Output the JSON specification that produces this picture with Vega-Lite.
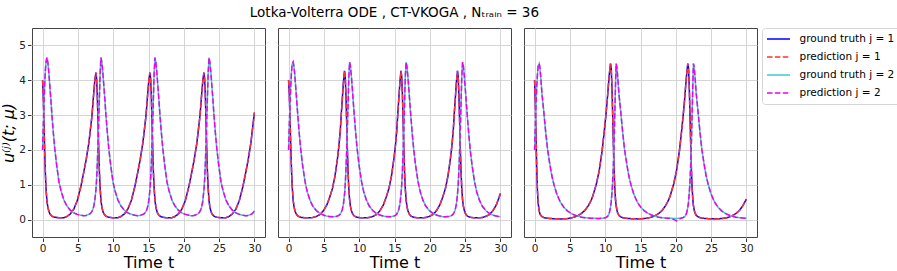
{
"$schema": "https://vega.github.io/schema/vega-lite/v6.json",
"background": "white",
"padding": {"left": 0, "top": 5, "right": 0, "bottom": 0},
"title": {"text": "Lotka-Volterra ODE , CT-VKOGA , Nₜᵣₐᵢₙ = 36", "font": "DejaVu Sans", "fontSize": 13.5, "fontWeight": "normal", "color": "#000", "anchor": "start", "dx": 249, "offset": 8.5},
"config": {
  "font": "DejaVu Sans",
  "view": {"stroke": "#444", "strokeWidth": 1},
  "axis": {"grid": true, "gridColor": "#d0d0d0", "gridWidth": 0.9, "domain": false, "tickColor": "#333", "tickSize": 3.5, "labelFont": "DejaVu Sans", "labelFontSize": 10.5, "labelColor": "#222", "titleFont": "DejaVu Sans", "titleFontSize": 16, "titleFontWeight": "normal", "titleColor": "#000", "labelPadding": 2},
  "legend": {"orient": "right", "offset": 4, "padding": 5, "strokeColor": "#d6d6d6", "cornerRadius": 3, "fillColor": "white", "labelFont": "DejaVu Sans", "labelFontSize": 10.5, "labelColor": "#000", "symbolType": "M-2.3,0H2.3", "symbolSize": 100, "symbolStrokeWidth": 1.5, "symbolOffset": 5.5, "rowPadding": 6, "labelOffset": 15, "labelLimit": 200}
},
"data": {"values": [
{"p":1,"t":0,"g1":4.0,"p1":4.0,"g2":2.0,"p2":2.0},
{"p":1,"t":0.1,"g1":3.5,"p1":3.5,"g2":2.7,"p2":2.7},
{"p":1,"t":0.2,"g1":2.75,"p1":2.75,"g2":3.35,"p2":3.35},
{"p":1,"t":0.3,"g1":1.95,"p1":1.95,"g2":3.9,"p2":3.9},
{"p":1,"t":0.4,"g1":1.3,"p1":1.3,"g2":4.3,"p2":4.3},
{"p":1,"t":0.5,"g1":0.85,"p1":0.85,"g2":4.55,"p2":4.55},
{"p":1,"t":0.62,"g1":0.52,"p1":0.52,"g2":4.65,"p2":4.65},
{"p":1,"t":0.74,"g1":0.37,"p1":0.37,"g2":4.52,"p2":4.52},
{"p":1,"t":0.87,"g1":0.25,"p1":0.25,"g2":4.25,"p2":4.25},
{"p":1,"t":1.02,"g1":0.17,"p1":0.17,"g2":3.85,"p2":3.85},
{"p":1,"t":1.17,"g1":0.13,"p1":0.13,"g2":3.45,"p2":3.45},
{"p":1,"t":1.32,"g1":0.1,"p1":0.1,"g2":3.0,"p2":3.0},
{"p":1,"t":1.52,"g1":0.08,"p1":0.08,"g2":2.5,"p2":2.5},
{"p":1,"t":1.72,"g1":0.068,"p1":0.068,"g2":2.05,"p2":2.05},
{"p":1,"t":1.97,"g1":0.06,"p1":0.06,"g2":1.6,"p2":1.6},
{"p":1,"t":2.32,"g1":0.053,"p1":0.053,"g2":1.08,"p2":1.08},
{"p":1,"t":2.62,"g1":0.05,"p1":0.05,"g2":0.82,"p2":0.82},
{"p":1,"t":3.02,"g1":0.055,"p1":0.055,"g2":0.56,"p2":0.56},
{"p":1,"t":3.42,"g1":0.085,"p1":0.085,"g2":0.4,"p2":0.4},
{"p":1,"t":3.92,"g1":0.16,"p1":0.16,"g2":0.27,"p2":0.27},
{"p":1,"t":4.42,"g1":0.3,"p1":0.3,"g2":0.19,"p2":0.19},
{"p":1,"t":4.92,"g1":0.55,"p1":0.55,"g2":0.15,"p2":0.15},
{"p":1,"t":5.42,"g1":0.95,"p1":0.95,"g2":0.125,"p2":0.125},
{"p":1,"t":5.82,"g1":1.35,"p1":1.35,"g2":0.11,"p2":0.11},
{"p":1,"t":6.17,"g1":1.72,"p1":1.72,"g2":0.12,"p2":0.12},
{"p":1,"t":6.55,"g1":2.2,"p1":2.2,"g2":0.15,"p2":0.15},
{"p":1,"t":6.75,"g1":2.55,"p1":2.55,"g2":0.17,"p2":0.17},
{"p":1,"t":6.95,"g1":2.9,"p1":2.9,"g2":0.22,"p2":0.22},
{"p":1,"t":7.1,"g1":3.25,"p1":3.25,"g2":0.28,"p2":0.28},
{"p":1,"t":7.25,"g1":3.65,"p1":3.65,"g2":0.38,"p2":0.38},
{"p":1,"t":7.4,"g1":4.0,"p1":4.0,"g2":0.55,"p2":0.55},
{"p":1,"t":7.55,"g1":4.22,"p1":4.22,"g2":0.85,"p2":0.85},
{"p":1,"t":7.65,"g1":4.05,"p1":4.05,"g2":1.15,"p2":1.15},
{"p":1,"t":7.75,"g1":3.55,"p1":3.55,"g2":1.6,"p2":1.6},
{"p":1,"t":7.85,"g1":2.8,"p1":2.8,"g2":2.2,"p2":2.2},
{"p":1,"t":7.95,"g1":2.0,"p1":2.0,"g2":2.85,"p2":2.85},
{"p":1,"t":8.05,"g1":1.35,"p1":1.35,"g2":3.55,"p2":3.55},
{"p":1,"t":8.15,"g1":0.9,"p1":0.9,"g2":4.2,"p2":4.2},
{"p":1,"t":8.27,"g1":0.55,"p1":0.55,"g2":4.65,"p2":4.65},
{"p":1,"t":8.39,"g1":0.37,"p1":0.37,"g2":4.52,"p2":4.52},
{"p":1,"t":8.52,"g1":0.25,"p1":0.25,"g2":4.25,"p2":4.25},
{"p":1,"t":8.67,"g1":0.17,"p1":0.17,"g2":3.85,"p2":3.85},
{"p":1,"t":8.82,"g1":0.13,"p1":0.13,"g2":3.45,"p2":3.45},
{"p":1,"t":8.97,"g1":0.1,"p1":0.1,"g2":3.0,"p2":3.0},
{"p":1,"t":9.17,"g1":0.08,"p1":0.08,"g2":2.5,"p2":2.5},
{"p":1,"t":9.37,"g1":0.068,"p1":0.068,"g2":2.05,"p2":2.05},
{"p":1,"t":9.62,"g1":0.06,"p1":0.06,"g2":1.6,"p2":1.6},
{"p":1,"t":9.97,"g1":0.053,"p1":0.053,"g2":1.08,"p2":1.08},
{"p":1,"t":10.27,"g1":0.05,"p1":0.05,"g2":0.82,"p2":0.82},
{"p":1,"t":10.67,"g1":0.055,"p1":0.055,"g2":0.56,"p2":0.56},
{"p":1,"t":11.07,"g1":0.085,"p1":0.085,"g2":0.4,"p2":0.4},
{"p":1,"t":11.57,"g1":0.16,"p1":0.16,"g2":0.27,"p2":0.27},
{"p":1,"t":12.07,"g1":0.3,"p1":0.3,"g2":0.19,"p2":0.19},
{"p":1,"t":12.57,"g1":0.55,"p1":0.55,"g2":0.15,"p2":0.15},
{"p":1,"t":13.07,"g1":0.95,"p1":0.95,"g2":0.125,"p2":0.125},
{"p":1,"t":13.47,"g1":1.35,"p1":1.35,"g2":0.11,"p2":0.11},
{"p":1,"t":13.82,"g1":1.72,"p1":1.72,"g2":0.12,"p2":0.12},
{"p":1,"t":14.2,"g1":2.2,"p1":2.2,"g2":0.15,"p2":0.15},
{"p":1,"t":14.4,"g1":2.55,"p1":2.55,"g2":0.17,"p2":0.17},
{"p":1,"t":14.6,"g1":2.9,"p1":2.9,"g2":0.22,"p2":0.22},
{"p":1,"t":14.75,"g1":3.25,"p1":3.25,"g2":0.28,"p2":0.28},
{"p":1,"t":14.9,"g1":3.65,"p1":3.65,"g2":0.38,"p2":0.38},
{"p":1,"t":15.05,"g1":4.0,"p1":4.0,"g2":0.55,"p2":0.55},
{"p":1,"t":15.2,"g1":4.22,"p1":4.22,"g2":0.85,"p2":0.85},
{"p":1,"t":15.3,"g1":4.05,"p1":4.05,"g2":1.15,"p2":1.15},
{"p":1,"t":15.4,"g1":3.55,"p1":3.55,"g2":1.6,"p2":1.6},
{"p":1,"t":15.5,"g1":2.8,"p1":2.8,"g2":2.2,"p2":2.2},
{"p":1,"t":15.6,"g1":2.0,"p1":2.0,"g2":2.85,"p2":2.85},
{"p":1,"t":15.7,"g1":1.35,"p1":1.35,"g2":3.55,"p2":3.55},
{"p":1,"t":15.8,"g1":0.9,"p1":0.9,"g2":4.2,"p2":4.2},
{"p":1,"t":15.92,"g1":0.55,"p1":0.55,"g2":4.65,"p2":4.65},
{"p":1,"t":16.04,"g1":0.37,"p1":0.37,"g2":4.52,"p2":4.52},
{"p":1,"t":16.17,"g1":0.25,"p1":0.25,"g2":4.25,"p2":4.25},
{"p":1,"t":16.32,"g1":0.17,"p1":0.17,"g2":3.85,"p2":3.85},
{"p":1,"t":16.47,"g1":0.13,"p1":0.13,"g2":3.45,"p2":3.45},
{"p":1,"t":16.62,"g1":0.1,"p1":0.1,"g2":3.0,"p2":3.0},
{"p":1,"t":16.82,"g1":0.08,"p1":0.08,"g2":2.5,"p2":2.5},
{"p":1,"t":17.02,"g1":0.068,"p1":0.068,"g2":2.05,"p2":2.05},
{"p":1,"t":17.27,"g1":0.06,"p1":0.06,"g2":1.6,"p2":1.6},
{"p":1,"t":17.62,"g1":0.053,"p1":0.053,"g2":1.08,"p2":1.08},
{"p":1,"t":17.92,"g1":0.05,"p1":0.05,"g2":0.82,"p2":0.82},
{"p":1,"t":18.32,"g1":0.055,"p1":0.055,"g2":0.56,"p2":0.56},
{"p":1,"t":18.72,"g1":0.085,"p1":0.085,"g2":0.4,"p2":0.4},
{"p":1,"t":19.22,"g1":0.16,"p1":0.16,"g2":0.27,"p2":0.27},
{"p":1,"t":19.72,"g1":0.3,"p1":0.3,"g2":0.19,"p2":0.19},
{"p":1,"t":20.22,"g1":0.55,"p1":0.55,"g2":0.15,"p2":0.15},
{"p":1,"t":20.72,"g1":0.95,"p1":0.95,"g2":0.125,"p2":0.125},
{"p":1,"t":21.12,"g1":1.35,"p1":1.35,"g2":0.11,"p2":0.11},
{"p":1,"t":21.47,"g1":1.72,"p1":1.72,"g2":0.12,"p2":0.12},
{"p":1,"t":21.85,"g1":2.2,"p1":2.2,"g2":0.15,"p2":0.15},
{"p":1,"t":22.05,"g1":2.55,"p1":2.55,"g2":0.17,"p2":0.17},
{"p":1,"t":22.25,"g1":2.9,"p1":2.9,"g2":0.22,"p2":0.22},
{"p":1,"t":22.4,"g1":3.25,"p1":3.25,"g2":0.28,"p2":0.28},
{"p":1,"t":22.55,"g1":3.65,"p1":3.65,"g2":0.38,"p2":0.38},
{"p":1,"t":22.7,"g1":4.0,"p1":4.0,"g2":0.55,"p2":0.55},
{"p":1,"t":22.85,"g1":4.22,"p1":4.22,"g2":0.85,"p2":0.85},
{"p":1,"t":22.95,"g1":4.05,"p1":4.05,"g2":1.15,"p2":1.15},
{"p":1,"t":23.05,"g1":3.55,"p1":3.55,"g2":1.6,"p2":1.6},
{"p":1,"t":23.15,"g1":2.8,"p1":2.8,"g2":2.2,"p2":2.2},
{"p":1,"t":23.25,"g1":2.0,"p1":2.0,"g2":2.85,"p2":2.85},
{"p":1,"t":23.35,"g1":1.35,"p1":1.35,"g2":3.55,"p2":3.55},
{"p":1,"t":23.45,"g1":0.9,"p1":0.9,"g2":4.2,"p2":4.2},
{"p":1,"t":23.57,"g1":0.55,"p1":0.55,"g2":4.65,"p2":4.65},
{"p":1,"t":23.69,"g1":0.37,"p1":0.37,"g2":4.52,"p2":4.52},
{"p":1,"t":23.82,"g1":0.25,"p1":0.25,"g2":4.25,"p2":4.25},
{"p":1,"t":23.97,"g1":0.17,"p1":0.17,"g2":3.85,"p2":3.85},
{"p":1,"t":24.12,"g1":0.13,"p1":0.13,"g2":3.45,"p2":3.45},
{"p":1,"t":24.27,"g1":0.1,"p1":0.1,"g2":3.0,"p2":3.0},
{"p":1,"t":24.47,"g1":0.08,"p1":0.08,"g2":2.5,"p2":2.5},
{"p":1,"t":24.67,"g1":0.068,"p1":0.068,"g2":2.05,"p2":2.05},
{"p":1,"t":24.92,"g1":0.06,"p1":0.06,"g2":1.6,"p2":1.6},
{"p":1,"t":25.27,"g1":0.053,"p1":0.053,"g2":1.08,"p2":1.08},
{"p":1,"t":25.57,"g1":0.05,"p1":0.05,"g2":0.82,"p2":0.82},
{"p":1,"t":25.97,"g1":0.055,"p1":0.055,"g2":0.56,"p2":0.56},
{"p":1,"t":26.37,"g1":0.085,"p1":0.085,"g2":0.4,"p2":0.4},
{"p":1,"t":26.87,"g1":0.16,"p1":0.16,"g2":0.27,"p2":0.27},
{"p":1,"t":27.37,"g1":0.3,"p1":0.3,"g2":0.19,"p2":0.19},
{"p":1,"t":27.87,"g1":0.55,"p1":0.55,"g2":0.15,"p2":0.15},
{"p":1,"t":28.37,"g1":0.95,"p1":0.95,"g2":0.125,"p2":0.125},
{"p":1,"t":28.77,"g1":1.35,"p1":1.35,"g2":0.11,"p2":0.11},
{"p":1,"t":29.12,"g1":1.72,"p1":1.72,"g2":0.12,"p2":0.12},
{"p":1,"t":29.5,"g1":2.2,"p1":2.2,"g2":0.15,"p2":0.15},
{"p":1,"t":29.7,"g1":2.55,"p1":2.55,"g2":0.17,"p2":0.17},
{"p":1,"t":29.9,"g1":2.9,"p1":2.9,"g2":0.22,"p2":0.22},
{"p":1,"t":30,"g1":3.07,"p1":3.07,"g2":0.25,"p2":0.25},
{"p":2,"t":0,"g1":4.0,"p1":4.0,"g2":2.0,"p2":2.0},
{"p":2,"t":0.1,"g1":3.6,"p1":3.6,"g2":2.7,"p2":2.7},
{"p":2,"t":0.2,"g1":2.9,"p1":2.9,"g2":3.3,"p2":3.3},
{"p":2,"t":0.3,"g1":2.15,"p1":2.15,"g2":3.8,"p2":3.8},
{"p":2,"t":0.4,"g1":1.5,"p1":1.5,"g2":4.2,"p2":4.2},
{"p":2,"t":0.5,"g1":1.0,"p1":1.0,"g2":4.45,"p2":4.45},
{"p":2,"t":0.64,"g1":0.57,"p1":0.57,"g2":4.52,"p2":4.52},
{"p":2,"t":0.76,"g1":0.38,"p1":0.38,"g2":4.4,"p2":4.4},
{"p":2,"t":0.89,"g1":0.26,"p1":0.26,"g2":4.12,"p2":4.12},
{"p":2,"t":1.04,"g1":0.18,"p1":0.18,"g2":3.72,"p2":3.72},
{"p":2,"t":1.19,"g1":0.13,"p1":0.13,"g2":3.3,"p2":3.3},
{"p":2,"t":1.34,"g1":0.1,"p1":0.1,"g2":2.9,"p2":2.9},
{"p":2,"t":1.54,"g1":0.08,"p1":0.08,"g2":2.4,"p2":2.4},
{"p":2,"t":1.74,"g1":0.067,"p1":0.067,"g2":1.98,"p2":1.98},
{"p":2,"t":1.99,"g1":0.058,"p1":0.058,"g2":1.55,"p2":1.55},
{"p":2,"t":2.34,"g1":0.052,"p1":0.052,"g2":1.08,"p2":1.08},
{"p":2,"t":2.64,"g1":0.05,"p1":0.05,"g2":0.8,"p2":0.8},
{"p":2,"t":3.04,"g1":0.05,"p1":0.05,"g2":0.55,"p2":0.55},
{"p":2,"t":3.42,"g1":0.06,"p1":0.06,"g2":0.39,"p2":0.39},
{"p":2,"t":3.92,"g1":0.09,"p1":0.09,"g2":0.26,"p2":0.26},
{"p":2,"t":4.42,"g1":0.14,"p1":0.14,"g2":0.18,"p2":0.18},
{"p":2,"t":4.92,"g1":0.25,"p1":0.25,"g2":0.13,"p2":0.13},
{"p":2,"t":5.42,"g1":0.42,"p1":0.42,"g2":0.1,"p2":0.1},
{"p":2,"t":5.82,"g1":0.64,"p1":0.64,"g2":0.085,"p2":0.085},
{"p":2,"t":6.22,"g1":0.9,"p1":0.9,"g2":0.08,"p2":0.08},
{"p":2,"t":6.57,"g1":1.25,"p1":1.25,"g2":0.085,"p2":0.085},
{"p":2,"t":6.92,"g1":1.75,"p1":1.75,"g2":0.1,"p2":0.1},
{"p":2,"t":7.12,"g1":2.1,"p1":2.1,"g2":0.12,"p2":0.12},
{"p":2,"t":7.32,"g1":2.55,"p1":2.55,"g2":0.16,"p2":0.16},
{"p":2,"t":7.47,"g1":3.05,"p1":3.05,"g2":0.21,"p2":0.21},
{"p":2,"t":7.62,"g1":3.5,"p1":3.5,"g2":0.3,"p2":0.3},
{"p":2,"t":7.77,"g1":3.95,"p1":3.95,"g2":0.45,"p2":0.45},
{"p":2,"t":7.92,"g1":4.27,"p1":4.27,"g2":0.72,"p2":0.72},
{"p":2,"t":8.02,"g1":4.1,"p1":4.1,"g2":1.0,"p2":1.0},
{"p":2,"t":8.12,"g1":3.6,"p1":3.6,"g2":1.4,"p2":1.4},
{"p":2,"t":8.22,"g1":2.85,"p1":2.85,"g2":1.95,"p2":1.95},
{"p":2,"t":8.32,"g1":2.05,"p1":2.05,"g2":2.6,"p2":2.6},
{"p":2,"t":8.42,"g1":1.4,"p1":1.4,"g2":3.3,"p2":3.3},
{"p":2,"t":8.52,"g1":0.92,"p1":0.92,"g2":4.05,"p2":4.05},
{"p":2,"t":8.64,"g1":0.57,"p1":0.57,"g2":4.52,"p2":4.52},
{"p":2,"t":8.76,"g1":0.38,"p1":0.38,"g2":4.4,"p2":4.4},
{"p":2,"t":8.89,"g1":0.26,"p1":0.26,"g2":4.12,"p2":4.12},
{"p":2,"t":9.04,"g1":0.18,"p1":0.18,"g2":3.72,"p2":3.72},
{"p":2,"t":9.19,"g1":0.13,"p1":0.13,"g2":3.3,"p2":3.3},
{"p":2,"t":9.34,"g1":0.1,"p1":0.1,"g2":2.9,"p2":2.9},
{"p":2,"t":9.54,"g1":0.08,"p1":0.08,"g2":2.4,"p2":2.4},
{"p":2,"t":9.74,"g1":0.067,"p1":0.067,"g2":1.98,"p2":1.98},
{"p":2,"t":9.99,"g1":0.058,"p1":0.058,"g2":1.55,"p2":1.55},
{"p":2,"t":10.34,"g1":0.052,"p1":0.052,"g2":1.08,"p2":1.08},
{"p":2,"t":10.64,"g1":0.05,"p1":0.05,"g2":0.8,"p2":0.8},
{"p":2,"t":11.04,"g1":0.05,"p1":0.05,"g2":0.55,"p2":0.55},
{"p":2,"t":11.42,"g1":0.06,"p1":0.06,"g2":0.39,"p2":0.39},
{"p":2,"t":11.92,"g1":0.09,"p1":0.09,"g2":0.26,"p2":0.26},
{"p":2,"t":12.42,"g1":0.14,"p1":0.14,"g2":0.18,"p2":0.18},
{"p":2,"t":12.92,"g1":0.25,"p1":0.25,"g2":0.13,"p2":0.13},
{"p":2,"t":13.42,"g1":0.42,"p1":0.42,"g2":0.1,"p2":0.1},
{"p":2,"t":13.82,"g1":0.64,"p1":0.64,"g2":0.085,"p2":0.085},
{"p":2,"t":14.22,"g1":0.9,"p1":0.9,"g2":0.08,"p2":0.08},
{"p":2,"t":14.57,"g1":1.25,"p1":1.25,"g2":0.085,"p2":0.085},
{"p":2,"t":14.92,"g1":1.75,"p1":1.75,"g2":0.1,"p2":0.1},
{"p":2,"t":15.12,"g1":2.1,"p1":2.1,"g2":0.12,"p2":0.12},
{"p":2,"t":15.32,"g1":2.55,"p1":2.55,"g2":0.16,"p2":0.16},
{"p":2,"t":15.47,"g1":3.05,"p1":3.05,"g2":0.21,"p2":0.21},
{"p":2,"t":15.62,"g1":3.5,"p1":3.5,"g2":0.3,"p2":0.3},
{"p":2,"t":15.77,"g1":3.95,"p1":3.95,"g2":0.45,"p2":0.45},
{"p":2,"t":15.92,"g1":4.27,"p1":4.27,"g2":0.72,"p2":0.72},
{"p":2,"t":16.02,"g1":4.1,"p1":4.1,"g2":1.0,"p2":1.0},
{"p":2,"t":16.12,"g1":3.6,"p1":3.6,"g2":1.4,"p2":1.4},
{"p":2,"t":16.22,"g1":2.85,"p1":2.85,"g2":1.95,"p2":1.95},
{"p":2,"t":16.32,"g1":2.05,"p1":2.05,"g2":2.6,"p2":2.6},
{"p":2,"t":16.42,"g1":1.4,"p1":1.4,"g2":3.3,"p2":3.3},
{"p":2,"t":16.52,"g1":0.92,"p1":0.92,"g2":4.05,"p2":4.05},
{"p":2,"t":16.64,"g1":0.57,"p1":0.57,"g2":4.52,"p2":4.52},
{"p":2,"t":16.76,"g1":0.38,"p1":0.38,"g2":4.4,"p2":4.4},
{"p":2,"t":16.89,"g1":0.26,"p1":0.26,"g2":4.12,"p2":4.12},
{"p":2,"t":17.04,"g1":0.18,"p1":0.18,"g2":3.72,"p2":3.72},
{"p":2,"t":17.19,"g1":0.13,"p1":0.13,"g2":3.3,"p2":3.3},
{"p":2,"t":17.34,"g1":0.1,"p1":0.1,"g2":2.9,"p2":2.9},
{"p":2,"t":17.54,"g1":0.08,"p1":0.08,"g2":2.4,"p2":2.4},
{"p":2,"t":17.74,"g1":0.067,"p1":0.067,"g2":1.98,"p2":1.98},
{"p":2,"t":17.99,"g1":0.058,"p1":0.058,"g2":1.55,"p2":1.55},
{"p":2,"t":18.34,"g1":0.052,"p1":0.052,"g2":1.08,"p2":1.08},
{"p":2,"t":18.64,"g1":0.05,"p1":0.05,"g2":0.8,"p2":0.8},
{"p":2,"t":19.04,"g1":0.05,"p1":0.05,"g2":0.55,"p2":0.55},
{"p":2,"t":19.42,"g1":0.06,"p1":0.06,"g2":0.39,"p2":0.39},
{"p":2,"t":19.92,"g1":0.09,"p1":0.09,"g2":0.26,"p2":0.26},
{"p":2,"t":20.42,"g1":0.14,"p1":0.14,"g2":0.18,"p2":0.18},
{"p":2,"t":20.92,"g1":0.25,"p1":0.25,"g2":0.13,"p2":0.13},
{"p":2,"t":21.42,"g1":0.42,"p1":0.42,"g2":0.1,"p2":0.1},
{"p":2,"t":21.82,"g1":0.64,"p1":0.64,"g2":0.085,"p2":0.085},
{"p":2,"t":22.22,"g1":0.9,"p1":0.9,"g2":0.08,"p2":0.08},
{"p":2,"t":22.57,"g1":1.25,"p1":1.25,"g2":0.085,"p2":0.085},
{"p":2,"t":22.92,"g1":1.75,"p1":1.75,"g2":0.1,"p2":0.1},
{"p":2,"t":23.12,"g1":2.1,"p1":2.1,"g2":0.12,"p2":0.12},
{"p":2,"t":23.32,"g1":2.55,"p1":2.55,"g2":0.16,"p2":0.16},
{"p":2,"t":23.47,"g1":3.05,"p1":3.05,"g2":0.21,"p2":0.21},
{"p":2,"t":23.62,"g1":3.5,"p1":3.5,"g2":0.3,"p2":0.3},
{"p":2,"t":23.77,"g1":3.95,"p1":3.95,"g2":0.45,"p2":0.45},
{"p":2,"t":23.92,"g1":4.27,"p1":4.27,"g2":0.72,"p2":0.72},
{"p":2,"t":24.02,"g1":4.1,"p1":4.1,"g2":1.0,"p2":1.0},
{"p":2,"t":24.12,"g1":3.6,"p1":3.6,"g2":1.4,"p2":1.4},
{"p":2,"t":24.22,"g1":2.85,"p1":2.85,"g2":1.95,"p2":1.95},
{"p":2,"t":24.32,"g1":2.05,"p1":2.05,"g2":2.6,"p2":2.6},
{"p":2,"t":24.42,"g1":1.4,"p1":1.4,"g2":3.3,"p2":3.3},
{"p":2,"t":24.52,"g1":0.92,"p1":0.92,"g2":4.05,"p2":4.05},
{"p":2,"t":24.64,"g1":0.57,"p1":0.57,"g2":4.52,"p2":4.52},
{"p":2,"t":24.76,"g1":0.38,"p1":0.38,"g2":4.4,"p2":4.4},
{"p":2,"t":24.89,"g1":0.26,"p1":0.26,"g2":4.12,"p2":4.12},
{"p":2,"t":25.04,"g1":0.18,"p1":0.18,"g2":3.72,"p2":3.72},
{"p":2,"t":25.19,"g1":0.13,"p1":0.13,"g2":3.3,"p2":3.3},
{"p":2,"t":25.34,"g1":0.1,"p1":0.1,"g2":2.9,"p2":2.9},
{"p":2,"t":25.54,"g1":0.08,"p1":0.08,"g2":2.4,"p2":2.4},
{"p":2,"t":25.74,"g1":0.067,"p1":0.067,"g2":1.98,"p2":1.98},
{"p":2,"t":25.99,"g1":0.058,"p1":0.058,"g2":1.55,"p2":1.55},
{"p":2,"t":26.34,"g1":0.052,"p1":0.052,"g2":1.08,"p2":1.08},
{"p":2,"t":26.64,"g1":0.05,"p1":0.05,"g2":0.8,"p2":0.8},
{"p":2,"t":27.04,"g1":0.05,"p1":0.05,"g2":0.55,"p2":0.55},
{"p":2,"t":27.42,"g1":0.06,"p1":0.06,"g2":0.39,"p2":0.39},
{"p":2,"t":27.92,"g1":0.09,"p1":0.09,"g2":0.26,"p2":0.26},
{"p":2,"t":28.42,"g1":0.14,"p1":0.14,"g2":0.18,"p2":0.18},
{"p":2,"t":28.92,"g1":0.25,"p1":0.25,"g2":0.13,"p2":0.13},
{"p":2,"t":29.42,"g1":0.42,"p1":0.42,"g2":0.1,"p2":0.1},
{"p":2,"t":29.82,"g1":0.64,"p1":0.64,"g2":0.085,"p2":0.085},
{"p":2,"t":30,"g1":0.75,"p1":0.75,"g2":0.082,"p2":0.082},
{"p":3,"t":0,"g1":4.0,"p1":4.0,"g2":2.0,"p2":2.0},
{"p":3,"t":0.1,"g1":3.3,"p1":3.3,"g2":2.7,"p2":2.7},
{"p":3,"t":0.2,"g1":2.4,"p1":2.4,"g2":3.3,"p2":3.3},
{"p":3,"t":0.3,"g1":1.5,"p1":1.5,"g2":3.8,"p2":3.8},
{"p":3,"t":0.4,"g1":0.85,"p1":0.85,"g2":4.15,"p2":4.15},
{"p":3,"t":0.5,"g1":0.48,"p1":0.48,"g2":4.4,"p2":4.4},
{"p":3,"t":0.65,"g1":0.25,"p1":0.25,"g2":4.48,"p2":4.48},
{"p":3,"t":0.75,"g1":0.17,"p1":0.17,"g2":4.38,"p2":4.38},
{"p":3,"t":0.85,"g1":0.13,"p1":0.13,"g2":4.15,"p2":4.15},
{"p":3,"t":1.05,"g1":0.085,"p1":0.085,"g2":3.6,"p2":3.6},
{"p":3,"t":1.3,"g1":0.06,"p1":0.06,"g2":3.1,"p2":3.1},
{"p":3,"t":1.6,"g1":0.045,"p1":0.045,"g2":2.45,"p2":2.45},
{"p":3,"t":1.85,"g1":0.038,"p1":0.038,"g2":2.0,"p2":2.0},
{"p":3,"t":2.15,"g1":0.032,"p1":0.032,"g2":1.6,"p2":1.6},
{"p":3,"t":2.45,"g1":0.028,"p1":0.028,"g2":1.25,"p2":1.25},
{"p":3,"t":2.75,"g1":0.025,"p1":0.025,"g2":1.0,"p2":1.0},
{"p":3,"t":3.15,"g1":0.022,"p1":0.022,"g2":0.73,"p2":0.73},
{"p":3,"t":3.65,"g1":0.02,"p1":0.02,"g2":0.5,"p2":0.5},
{"p":3,"t":4.15,"g1":0.021,"p1":0.021,"g2":0.35,"p2":0.35},
{"p":3,"t":4.65,"g1":0.03,"p1":0.03,"g2":0.25,"p2":0.25},
{"p":3,"t":5.15,"g1":0.046,"p1":0.046,"g2":0.18,"p2":0.18},
{"p":3,"t":5.65,"g1":0.072,"p1":0.072,"g2":0.13,"p2":0.13},
{"p":3,"t":6.15,"g1":0.115,"p1":0.115,"g2":0.095,"p2":0.095},
{"p":3,"t":6.65,"g1":0.18,"p1":0.18,"g2":0.07,"p2":0.07},
{"p":3,"t":7.15,"g1":0.27,"p1":0.27,"g2":0.055,"p2":0.055},
{"p":3,"t":7.65,"g1":0.41,"p1":0.41,"g2":0.045,"p2":0.045},
{"p":3,"t":8.05,"g1":0.57,"p1":0.57,"g2":0.04,"p2":0.04},
{"p":3,"t":8.25,"g1":0.68,"p1":0.68,"g2":0.037,"p2":0.037},
{"p":3,"t":8.75,"g1":1.02,"p1":1.02,"g2":0.034,"p2":0.034},
{"p":3,"t":9.15,"g1":1.4,"p1":1.4,"g2":0.033,"p2":0.033},
{"p":3,"t":9.55,"g1":1.95,"p1":1.95,"g2":0.036,"p2":0.036},
{"p":3,"t":9.85,"g1":2.5,"p1":2.5,"g2":0.045,"p2":0.045},
{"p":3,"t":10.1,"g1":3.0,"p1":3.0,"g2":0.06,"p2":0.06},
{"p":3,"t":10.3,"g1":3.45,"p1":3.45,"g2":0.085,"p2":0.085},
{"p":3,"t":10.45,"g1":3.85,"p1":3.85,"g2":0.12,"p2":0.12},
{"p":3,"t":10.6,"g1":4.2,"p1":4.2,"g2":0.2,"p2":0.2},
{"p":3,"t":10.75,"g1":4.48,"p1":4.48,"g2":0.35,"p2":0.35},
{"p":3,"t":10.85,"g1":4.35,"p1":4.35,"g2":0.5,"p2":0.5},
{"p":3,"t":10.95,"g1":3.85,"p1":3.85,"g2":0.75,"p2":0.75},
{"p":3,"t":11.05,"g1":3.1,"p1":3.1,"g2":1.05,"p2":1.05},
{"p":3,"t":11.15,"g1":2.25,"p1":2.25,"g2":1.5,"p2":1.5},
{"p":3,"t":11.25,"g1":1.5,"p1":1.5,"g2":2.15,"p2":2.15},
{"p":3,"t":11.35,"g1":0.95,"p1":0.95,"g2":2.95,"p2":2.95},
{"p":3,"t":11.47,"g1":0.55,"p1":0.55,"g2":3.95,"p2":3.95},
{"p":3,"t":11.55,"g1":0.4,"p1":0.4,"g2":4.48,"p2":4.48},
{"p":3,"t":11.65,"g1":0.28,"p1":0.28,"g2":4.38,"p2":4.38},
{"p":3,"t":11.75,"g1":0.2,"p1":0.2,"g2":4.15,"p2":4.15},
{"p":3,"t":11.95,"g1":0.12,"p1":0.12,"g2":3.6,"p2":3.6},
{"p":3,"t":12.2,"g1":0.08,"p1":0.08,"g2":3.1,"p2":3.1},
{"p":3,"t":12.5,"g1":0.055,"p1":0.055,"g2":2.45,"p2":2.45},
{"p":3,"t":12.75,"g1":0.043,"p1":0.043,"g2":2.0,"p2":2.0},
{"p":3,"t":13.05,"g1":0.035,"p1":0.035,"g2":1.6,"p2":1.6},
{"p":3,"t":13.35,"g1":0.03,"p1":0.03,"g2":1.25,"p2":1.25},
{"p":3,"t":13.65,"g1":0.027,"p1":0.027,"g2":1.0,"p2":1.0},
{"p":3,"t":14.05,"g1":0.023,"p1":0.023,"g2":0.73,"p2":0.73},
{"p":3,"t":14.55,"g1":0.02,"p1":0.02,"g2":0.5,"p2":0.5},
{"p":3,"t":15.05,"g1":0.022,"p1":0.022,"g2":0.35,"p2":0.35},
{"p":3,"t":15.55,"g1":0.03,"p1":0.03,"g2":0.25,"p2":0.25},
{"p":3,"t":16.05,"g1":0.045,"p1":0.045,"g2":0.18,"p2":0.18},
{"p":3,"t":16.55,"g1":0.07,"p1":0.07,"g2":0.13,"p2":0.13},
{"p":3,"t":17.05,"g1":0.11,"p1":0.11,"g2":0.095,"p2":0.095},
{"p":3,"t":17.55,"g1":0.17,"p1":0.17,"g2":0.07,"p2":0.07},
{"p":3,"t":18.05,"g1":0.26,"p1":0.26,"g2":0.055,"p2":0.055},
{"p":3,"t":18.55,"g1":0.4,"p1":0.4,"g2":0.045,"p2":0.045},
{"p":3,"t":18.95,"g1":0.55,"p1":0.55,"g2":0.04,"p2":0.04},
{"p":3,"t":19.2,"g1":0.68,"p1":0.68,"g2":0.037,"p2":0.037},
{"p":3,"t":19.7,"g1":1.02,"p1":1.02,"g2":0.034,"p2":0.005},
{"p":3,"t":20.1,"g1":1.4,"p1":1.4,"g2":0.033,"p2":-0.035},
{"p":3,"t":20.5,"g1":1.95,"p1":1.95,"g2":0.036,"p2":0.015},
{"p":3,"t":20.8,"g1":2.5,"p1":2.5,"g2":0.045,"p2":0.045},
{"p":3,"t":21.05,"g1":3.0,"p1":3.0,"g2":0.06,"p2":0.06},
{"p":3,"t":21.25,"g1":3.45,"p1":3.45,"g2":0.085,"p2":0.085},
{"p":3,"t":21.4,"g1":3.85,"p1":3.85,"g2":0.12,"p2":0.12},
{"p":3,"t":21.55,"g1":4.2,"p1":4.2,"g2":0.2,"p2":0.2},
{"p":3,"t":21.7,"g1":4.48,"p1":4.48,"g2":0.35,"p2":0.35},
{"p":3,"t":21.8,"g1":4.35,"p1":4.35,"g2":0.5,"p2":0.5},
{"p":3,"t":21.9,"g1":3.85,"p1":3.85,"g2":0.75,"p2":0.75},
{"p":3,"t":22.0,"g1":3.1,"p1":3.1,"g2":1.05,"p2":1.05},
{"p":3,"t":22.1,"g1":2.25,"p1":2.25,"g2":1.5,"p2":1.5},
{"p":3,"t":22.2,"g1":1.5,"p1":1.5,"g2":2.15,"p2":2.15},
{"p":3,"t":22.3,"g1":0.95,"p1":0.95,"g2":2.95,"p2":2.95},
{"p":3,"t":22.42,"g1":0.55,"p1":0.55,"g2":3.95,"p2":3.95},
{"p":3,"t":22.5,"g1":0.4,"p1":0.4,"g2":4.48,"p2":4.48},
{"p":3,"t":22.6,"g1":0.28,"p1":0.28,"g2":4.38,"p2":4.38},
{"p":3,"t":22.7,"g1":0.2,"p1":0.2,"g2":4.15,"p2":4.15},
{"p":3,"t":22.9,"g1":0.12,"p1":0.12,"g2":3.6,"p2":3.6},
{"p":3,"t":23.15,"g1":0.08,"p1":0.08,"g2":3.1,"p2":3.1},
{"p":3,"t":23.45,"g1":0.055,"p1":0.055,"g2":2.45,"p2":2.45},
{"p":3,"t":23.7,"g1":0.043,"p1":0.043,"g2":2.0,"p2":2.0},
{"p":3,"t":24.0,"g1":0.035,"p1":0.035,"g2":1.6,"p2":1.6},
{"p":3,"t":24.3,"g1":0.03,"p1":0.03,"g2":1.25,"p2":1.25},
{"p":3,"t":24.6,"g1":0.027,"p1":0.027,"g2":1.0,"p2":1.0},
{"p":3,"t":25.0,"g1":0.023,"p1":0.023,"g2":0.73,"p2":0.73},
{"p":3,"t":25.5,"g1":0.02,"p1":0.02,"g2":0.5,"p2":0.5},
{"p":3,"t":26.0,"g1":0.022,"p1":0.022,"g2":0.35,"p2":0.35},
{"p":3,"t":26.5,"g1":0.03,"p1":0.03,"g2":0.25,"p2":0.25},
{"p":3,"t":27.0,"g1":0.045,"p1":0.045,"g2":0.18,"p2":0.18},
{"p":3,"t":27.5,"g1":0.07,"p1":0.07,"g2":0.13,"p2":0.13},
{"p":3,"t":28.0,"g1":0.11,"p1":0.11,"g2":0.095,"p2":0.095},
{"p":3,"t":28.5,"g1":0.17,"p1":0.17,"g2":0.07,"p2":0.07},
{"p":3,"t":29.0,"g1":0.26,"p1":0.26,"g2":0.055,"p2":0.055},
{"p":3,"t":29.5,"g1":0.4,"p1":0.4,"g2":0.045,"p2":0.045},
{"p":3,"t":29.9,"g1":0.55,"p1":0.55,"g2":0.04,"p2":0.04},
{"p":3,"t":30,"g1":0.59,"p1":0.59,"g2":0.039,"p2":0.039}
]},
"transform": [{"fold": ["g1", "p1", "g2", "p2"], "as": ["s", "v"]}],
"facet": {"column": {"field": "p", "type": "ordinal", "header": {"title": null, "labels": false}}},
"spacing": 11,
"spec": {
  "width": 233,
  "height": 209,
  "mark": {"type": "line", "strokeWidth": 1.5, "clip": true},
  "encoding": {
    "x": {"field": "t", "type": "quantitative", "scale": {"domain": [-1.5, 31.5], "nice": false, "zero": false}, "axis": {"values": [0, 5, 10, 15, 20, 25, 30], "title": "Time t", "titlePadding": 0}},
    "y": {"field": "v", "type": "quantitative", "scale": {"domain": [-0.5, 5.5], "nice": false, "zero": false}, "axis": {"values": [0, 1, 2, 3, 4, 5], "title": "u⁽ʲ⁾(t; μ)", "titleFontStyle": "italic", "titlePadding": 2}},
    "order": {"field": "t", "type": "quantitative"},
    "color": {"field": "s", "type": "nominal", "scale": {"domain": ["g1", "p1", "g2", "p2"], "range": ["#0000ff", "#ff3030", "#3dcccc", "#f000f0"]}, "legend": {"title": null, "labelExpr": "{'g1': 'ground truth j = 1', 'p1': 'prediction j = 1', 'g2': 'ground truth j = 2', 'p2': 'prediction j = 2'}[datum.label]"}},
    "strokeDash": {"field": "s", "type": "nominal", "scale": {"domain": ["g1", "p1", "g2", "p2"], "range": [[1, 0], [5.5, 2.4], [1, 0], [5.5, 2.4]]}, "legend": {"title": null, "labelExpr": "{'g1': 'ground truth j = 1', 'p1': 'prediction j = 1', 'g2': 'ground truth j = 2', 'p2': 'prediction j = 2'}[datum.label]"}}
  }
}
}
